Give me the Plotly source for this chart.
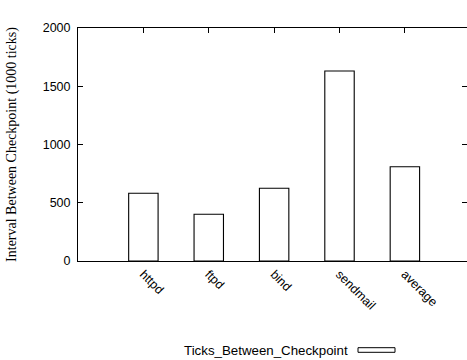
import plotly.graph_objects as go

categories = ["httpd", "ftpd", "bind", "sendmail", "average"]
positions = [1, 2, 3, 4, 5]
ticks_between_checkpoint = [581, 401, 624, 1631, 809]
y_ticks = [0, 500, 1000, 1500, 2000]

fig = go.Figure()
fig.add_trace(go.Bar(
    x=positions, y=ticks_between_checkpoint, width=0.45,
    marker=dict(color="white", line=dict(color="black", width=1.1)),
    name="Ticks_Between_Checkpoint", showlegend=False,
))

font_sans = "Liberation Sans, Arial, sans-serif"
fig.update_layout(
    width=467, height=360,
    margin=dict(l=78, r=0, t=28, b=99),
    plot_bgcolor="white", paper_bgcolor="white",
    font=dict(family=font_sans, size=13, color="black"),
    xaxis=dict(
        range=[0, 5.95], tickmode="array", tickvals=positions, ticktext=categories,
        tickangle=45, ticks="inside", ticklen=5, tickcolor="black",
        showline=True, linecolor="black", linewidth=1, mirror="ticks",
        showgrid=False, zeroline=False, layer="below traces", automargin=False,
        tickfont=dict(family=font_sans, size=12.5),
    ),
    yaxis=dict(
        range=[0, 2000], tickmode="array", tickvals=y_ticks,
        ticks="inside", ticklen=5, tickcolor="black",
        showline=True, linecolor="black", linewidth=1, mirror="ticks",
        showgrid=False, zeroline=False, automargin=False,
        tickfont=dict(family=font_sans, size=12.5),
        ticklabelstandoff=4,
        title=dict(text="Interval Between Checkpoint (1000 ticks)",
                   font=dict(family="Liberation Serif, Times New Roman, serif", size=14),
                   standoff=22),
    ),
)

fig.add_annotation(
    xref="paper", yref="paper", x=(350 - 78) / 389, y=(261 - 350) / 233,
    xanchor="right", yanchor="middle", showarrow=False,
    text="Ticks_Between_Checkpoint", font=dict(family=font_sans, size=13.3),
)
fig.add_shape(
    type="rect", xref="paper", yref="paper",
    x0=(358 - 78) / 389, x1=(395 - 78) / 389,
    y0=(261 - 352.3) / 233, y1=(261 - 347.7) / 233,
    line=dict(color="black", width=1), fillcolor="white",
)

fig.write_html(
    "out.html",
    config={"displayModeBar": False},
    post_script="document.body.style.margin='0';document.body.style.overflow='hidden';",
)
